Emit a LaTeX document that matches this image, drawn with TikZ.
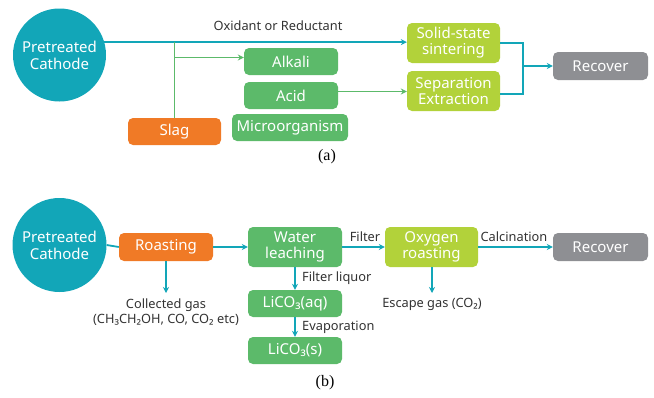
\documentclass[tikz,border=0pt]{standalone}
\usepackage{fontspec}
\setmainfont{Noto Sans}
\newfontfamily\capfont{Liberation Serif}
\usetikzlibrary{arrows.meta,calc}
\definecolor{tealc}{RGB}{18,166,184}
\definecolor{greenc}{RGB}{92,186,106}
\definecolor{limec}{RGB}{178,210,58}
\definecolor{orangec}{RGB}{240,122,38}
\definecolor{grayc}{RGB}{142,143,147}
\definecolor{txtc}{RGB}{50,50,50}
\tikzset{
  boxbase/.style={rounded corners=5pt, draw=none, text=white, align=center, inner sep=0pt,
    font=\fontsize{15}{16}\selectfont},
  greenbox/.style={boxbase, fill=greenc},
  limebox/.style={boxbase, fill=limec},
  orangebox/.style={boxbase, fill=orangec},
  graybox/.style={boxbase, fill=grayc},
  circ/.style={circle, fill=tealc, text=white, align=center, inner sep=0pt,
    font=\fontsize{15}{17}\selectfont},
  tline/.style={draw=tealc, line width=1.8pt},
  tarrow/.style={tline, -{Stealth[length=6pt,width=6pt]}},
  gline/.style={draw=greenc, line width=1.8pt},
  garrow/.style={gline, -{Stealth[length=6pt,width=6pt]}},
  lbl/.style={text=txtc, font=\fontsize{12.8}{14.5}\selectfont, inner sep=0pt, align=center},
  captext/.style={font=\capfont\fontsize{16}{18}\selectfont, inner sep=0pt}
}
\begin{document}
\begin{tikzpicture}[x=1pt,y=-1pt]
\useasboundingbox (0,0) rectangle (654,397);
% ---------- (a) ----------
\node[circ, minimum size=93pt] (circA) at (59.5,55) {Pretreated\\Cathode};
\node[limebox, minimum width=93pt, minimum height=40pt] (solid) at (453.5,43) {Solid-state\\sintering};
\node[limebox, minimum width=93pt, minimum height=40pt] (sep) at (453.5,91) {Separation\\Extraction};
\node[greenbox, minimum width=94pt, minimum height=27pt] (alkali) at (291,61.5) {Alkali};
\node[greenbox, minimum width=94pt, minimum height=27pt] (acid) at (291,95.5) {Acid};
\node[greenbox, minimum width=116pt, minimum height=27pt] (micro) at (290,127.5) {Microorganism};
\node[orangebox, minimum width=93pt, minimum height=27pt] (slag) at (174.5,131.5) {Slag};
\node[graybox, minimum width=95pt, minimum height=28pt] (recA) at (600.5,66) {Recover};
\coordinate (mainA) at (circA.16);
\draw[tarrow] (mainA) -- (mainA -| solid.west);
\node[lbl] (oxlbl) at (278,26) {Oxidant or Reductant};
\draw[gline] (slag.north) -- (slag.north |- mainA);
\draw[garrow] ([yshift=4pt]alkali.west -| slag.north) -- ([yshift=4pt]alkali.west);
\draw[garrow] ([yshift=4pt]acid.east) -- ([yshift=4pt]acid.east -| sep.west);
\coordinate (jA) at (523,66);
\draw[tline] (solid.east) -- (solid.east -| jA) -- ([yshift=-3pt]sep.east -| jA) -- ([yshift=-3pt]sep.east);
\draw[tarrow] (jA) -- (recA.west);
\node[captext] (capA) at (327,157) {(a)};
% ---------- (b) ----------
\node[circ, minimum size=94pt] (circB) at (59.5,245) {Pretreated\\Cathode};
\node[orangebox, minimum width=94pt, minimum height=28pt] (roast) at (166,247) {Roasting};
\node[greenbox, minimum width=94pt, minimum height=40pt] (water) at (295,247) {Water\\leaching};
\node[greenbox, minimum width=94pt, minimum height=27pt] (aq) at (295,303.5) {LiCO₃(aq)};
\node[greenbox, minimum width=94pt, minimum height=27pt] (sol) at (295,350.5) {LiCO₃(s)};
\node[limebox, minimum width=93pt, minimum height=40pt] (oxy) at (431.5,247) {Oxygen\\roasting};
\node[graybox, minimum width=95pt, minimum height=28pt] (recB) at (600.5,247) {Recover};
\draw[tline] (circB.east) -- (roast.west);
\draw[tarrow] (roast.east) -- (water.west);
\draw[tarrow] (water.east) -- (oxy.west);
\draw[tarrow] (oxy.east) -- (recB.west);
\coordinate (gasA) at (166,293);
\coordinate (gasB) at (432,293);
\draw[tarrow] (roast.south) -- (gasA);
\draw[tarrow] (oxy.south -| gasB) -- (gasB);
\draw[tarrow] (water.south) -- (aq.north);
\draw[tarrow] (aq.south) -- (sol.north);
\node[lbl] (filt) at (365,237) {Filter};
\node[lbl] (calc) at (514,237) {Calcination};
\node[lbl, anchor=west] (fliq) at (302,278) {Filter liquor};
\node[lbl, anchor=west] (evap) at (302,327) {Evaporation};
\node[lbl] (coll) at (166,312) {Collected gas\\(CH₃CH₂OH, CO, CO₂ etc)};
\node[lbl] (esc) at (432,304) {Escape gas (CO₂)};
\node[captext] (capB) at (325,383) {(b)};
\end{tikzpicture}
\end{document}
